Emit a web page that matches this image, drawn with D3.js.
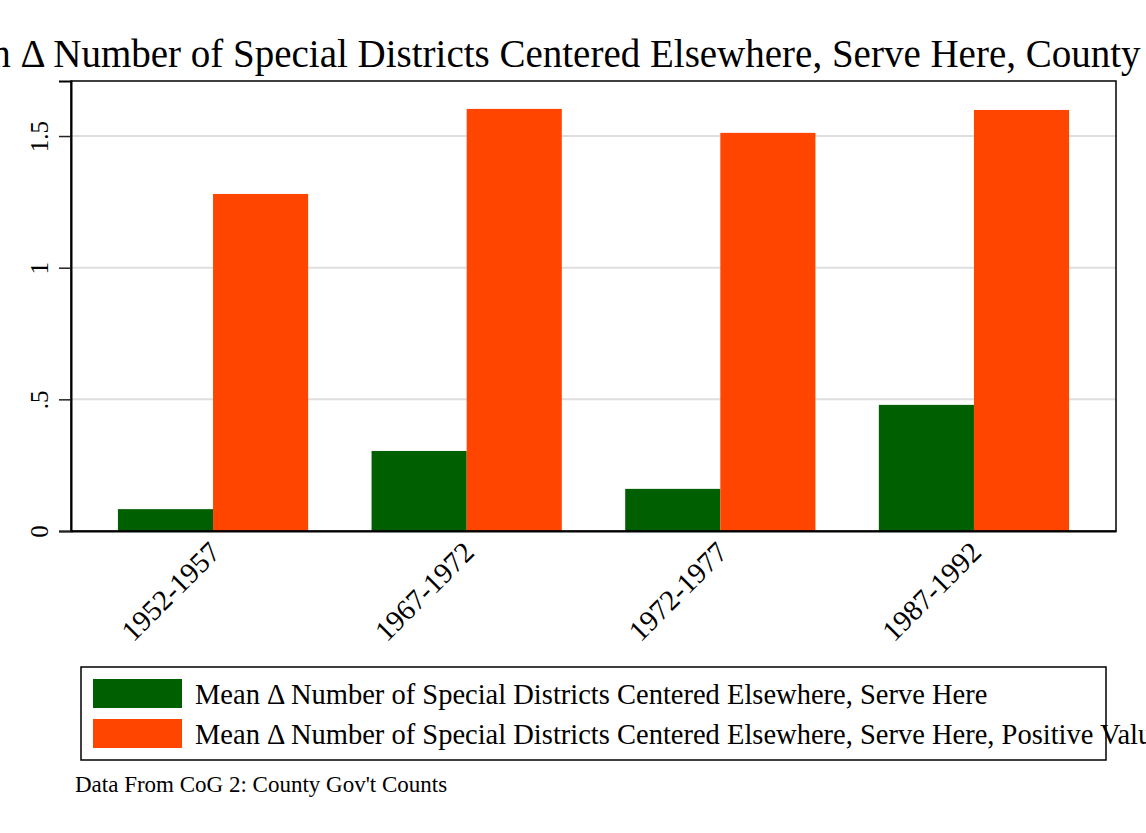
<!DOCTYPE html>
<html>
<head>
<meta charset="utf-8">
<script src="https://cdn.jsdelivr.net/npm/d3@7"></script>
<style>
html,body{margin:0;padding:0;background:#fff;}
svg{display:block;}
svg text{font-family:"Liberation Serif","Times New Roman",serif !important;}
</style>
</head>
<body>
<svg id="chart" width="1146" height="833"></svg>
<script>
const categories = ["1952-1957", "1967-1972", "1972-1977", "1987-1992"];
const seriesNames = [
  "Mean \u0394 Number of Special Districts Centered Elsewhere, Serve Here",
  "Mean \u0394 Number of Special Districts Centered Elsewhere, Serve Here, Positive Values"
];
const seriesAll = [0.083, 0.304, 0.160, 0.479];
const seriesPositive = [1.280, 1.603, 1.512, 1.599];
const yTicks = [0, 0.5, 1, 1.5];
const yTickLabels = ["0", ".5", "1", "1.5"];
const colors = ["#005f00", "#ff4500"];
const titleText = "Mean \u0394 Number of Special Districts Centered Elsewhere, Serve Here, County Level";
const noteText = "Data From CoG 2: County Gov't Counts";

const svg = d3.select("#chart");
const W = 1146, H = 833;
const plot = {left: 71, right: 1116, top: 81, bottom: 531};

svg.append("rect").attr("width", W).attr("height", H).attr("fill", "#fff");

const x0 = d3.scaleBand().domain(categories).range([plot.left, plot.right])
  .paddingInner(0.25).paddingOuter(0.185);
const x1 = d3.scaleBand().domain([0, 1]).range([0, x0.bandwidth()]);
const y = d3.scaleLinear().domain([0, 1.709]).range([plot.bottom, plot.top]);

// gridlines
svg.append("g").selectAll("line").data(yTicks.filter(d => d > 0)).join("line")
  .attr("x1", plot.left).attr("x2", plot.right)
  .attr("y1", d => y(d)).attr("y2", d => y(d))
  .attr("stroke", "#dedede").attr("stroke-width", 2);

// bars
const groups = svg.append("g").selectAll("g").data(categories).join("g")
  .attr("transform", d => `translate(${x0(d)},0)`);
groups.selectAll("rect").data((d, i) => [seriesAll[i], seriesPositive[i]]).join("rect")
  .attr("x", (d, j) => x1(j))
  .attr("width", x1.bandwidth())
  .attr("y", d => y(d))
  .attr("height", d => y(0) - y(d))
  .attr("fill", (d, j) => colors[j]);

// plot frame
svg.append("rect").attr("x", plot.left).attr("y", plot.top)
  .attr("width", plot.right - plot.left).attr("height", plot.bottom - plot.top)
  .attr("fill", "none").attr("stroke", "#000").attr("stroke-width", 1.5);

// y axis
const yAxis = d3.axisLeft(y).tickValues(yTicks)
  .tickFormat((d, i) => yTickLabels[i]).tickSize(12).tickPadding(0);
const gy = svg.append("g").attr("transform", `translate(${plot.left},0)`).call(yAxis);
gy.attr("font-family", null);
gy.select(".domain").attr("stroke", "#000").attr("stroke-width", 2);
gy.selectAll(".tick line").attr("stroke", "#222").attr("stroke-width", 1.5);
gy.selectAll(".tick text")
  .attr("font-size", 25)
  .attr("fill", "#000")
  .attr("text-anchor", "middle")
  .attr("dy", 0)
  .attr("x", 0).attr("y", 0)
  .attr("transform", "translate(-23,0) rotate(-90)");

// x axis
const xAxis = d3.axisBottom(x0).tickSize(0).tickPadding(0);
const gx = svg.append("g").attr("transform", `translate(0,${plot.bottom})`).call(xAxis);
gx.attr("font-family", null);
gx.select(".domain").attr("stroke", "#000").attr("stroke-width", 2);
gx.selectAll(".tick text")
  .attr("font-size", 29)
  .attr("fill", "#000")
  .attr("text-anchor", "end")
  .attr("y", 0).attr("dy", 0)
  .attr("transform", "translate(9,23) rotate(-45)");

// title
svg.append("text").attr("x", -78).attr("y", 67)
  .attr("text-anchor", "start").attr("font-size", 39).attr("fill", "#000")
  .text(titleText);

// legend
const leg = {x: 81, y: 667, w: 1025, h: 93};
svg.append("rect").attr("x", leg.x).attr("y", leg.y).attr("width", leg.w).attr("height", leg.h)
  .attr("fill", "#fff").attr("stroke", "#000").attr("stroke-width", 1.5);
const li = svg.append("g").selectAll("g").data(seriesNames).join("g")
  .attr("transform", (d, i) => `translate(93,${679 + i * 40})`);
li.append("rect").attr("width", 89).attr("height", 29).attr("fill", (d, i) => colors[i]);
li.append("text").attr("x", 102).attr("y", 25).attr("font-size", 28.5).attr("fill", "#000")
  .text(d => d);

// note
svg.append("text").attr("x", 75).attr("y", 792).attr("font-size", 23).attr("fill", "#000")
  .text(noteText);
</script>
</body>
</html>
